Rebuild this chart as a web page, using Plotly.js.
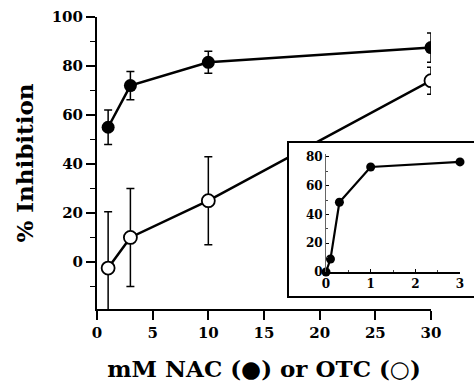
<!DOCTYPE html>
<html>
<head>
<meta charset="utf-8">
<script src="https://cdn.plot.ly/plotly-3.0.1.min.js"></script>
<style>
html,body{margin:0;padding:0;background:#fff;overflow:hidden;width:474px;height:382px;}
#main{position:absolute;left:0;top:0;width:474px;height:382px;}
#inset{position:absolute;left:287px;top:141px;width:200px;height:157px;}
</style>
</head>
<body>
<div id="main"></div>
<div id="inset"></div>
<script>
// Main chart data
const conc = [1, 3, 10, 30];              // mM
const nacInhibition = [55, 72, 81.5, 87.5];
const nacError = [7, 5.8, 4.5, 6];
const otcInhibition = [-2.5, 10, 25, 74];
const otcError = [23, 20, 18, 5.5];
const xTicks = [0, 5, 10, 15, 20, 25, 30];
const yTicks = [0, 20, 40, 60, 80, 100];

// Inset data (NAC, low concentrations)
const insetConc = [0, 0.1, 0.3, 1, 3];
const insetInhibition = [0, 9, 48.5, 73, 76.5];
const insetXTicks = [0, 1, 2, 3];
const insetYTicks = [0, 20, 40, 60, 80];

const font = {family: 'DejaVu Serif', weight: 'bold', color: '#000'};

const traces = [
  {
    x: conc, y: nacInhibition, type: 'scatter', mode: 'lines+markers',
    line: {color: '#000', width: 2.5},
    marker: {color: '#000', size: 13, symbol: 'circle'},
    error_y: {type: 'data', array: nacError, visible: true, color: '#000', thickness: 1.5, width: 4},
    showlegend: false
  },
  {
    x: conc, y: otcInhibition, type: 'scatter', mode: 'lines+markers',
    line: {color: '#000', width: 2.5},
    marker: {color: '#fff', size: 13, symbol: 'circle', line: {color: '#000', width: 1.8}},
    error_y: {type: 'data', array: otcError, visible: true, color: '#000', thickness: 1.5, width: 4},
    showlegend: false
  }
];

const layout = {
  width: 474, height: 382,
  margin: {l: 97, r: 43, t: 17, b: 73},
  paper_bgcolor: '#fff', plot_bgcolor: '#fff',
  font: Object.assign({size: 15}, font),
  showlegend: false,
  xaxis: {
    range: [0, 30], tickvals: xTicks, ticktext: xTicks.map(String),
    showline: true, linecolor: '#000', linewidth: 2,
    ticks: 'outside', ticklen: 9, tickwidth: 2, tickcolor: '#000',
    showgrid: false, zeroline: false,
    tickfont: Object.assign({size: 15}, font),
    title: {text: 'mM NAC (●) or OTC (○)', font: Object.assign({size: 23}, font), standoff: 22}
  },
  yaxis: {
    range: [-19.2, 100], tickvals: yTicks, ticktext: yTicks.map(String),
    showline: true, linecolor: '#000', linewidth: 2,
    ticks: 'outside', ticklen: 9, tickwidth: 2, tickcolor: '#000',
    minor: {dtick: 10, tick0: 10, ticks: 'outside', ticklen: 5, tickwidth: 1.5, tickcolor: '#000'},
    showgrid: false, zeroline: false,
    tickfont: Object.assign({size: 15}, font),
    title: {text: '% Inhibition', font: Object.assign({size: 23}, font), standoff: 12}
  }
};

Plotly.newPlot('main', traces, layout, {staticPlot: true, displayModeBar: false});

const insetTraces = [{
  x: insetConc, y: insetInhibition, type: 'scatter', mode: 'lines+markers',
  line: {color: '#000', width: 2.2},
  marker: {color: '#000', size: 9},
  cliponaxis: false, showlegend: false
}];

// inset frame geometry (px inside the inset div)
const W = 200, H = 157, ML = 39, MT = 13, PW = 134, PH = 118;
const px2x = p => (p - ML) / PW;
const py2y = p => (MT + PH - p) / PH;

const insetLayout = {
  width: W, height: H,
  margin: {l: ML, r: W - ML - PW, t: MT, b: H - MT - PH},
  paper_bgcolor: '#fff', plot_bgcolor: '#fff',
  font: Object.assign({size: 12}, font),
  showlegend: false,
  shapes: [
    {type: 'line', xref: 'paper', yref: 'paper', x0: px2x(0), x1: px2x(W), y0: py2y(1), y1: py2y(1), line: {color: '#000', width: 2}},
    {type: 'line', xref: 'paper', yref: 'paper', x0: px2x(0), x1: px2x(W), y0: py2y(H - 1), y1: py2y(H - 1), line: {color: '#000', width: 2}},
    {type: 'line', xref: 'paper', yref: 'paper', x0: px2x(1), x1: px2x(1), y0: py2y(0), y1: py2y(H), line: {color: '#000', width: 2}}
  ],
  xaxis: {
    range: [0, 3], tickvals: insetXTicks, ticktext: insetXTicks.map(String),
    showline: true, linecolor: '#000', linewidth: 1.5,
    ticks: 'inside', ticklen: 3, tickwidth: 1, tickcolor: '#000',
    minor: {dtick: 0.5, ticks: 'inside', ticklen: 2, tickcolor: '#444'},
    showgrid: false, zeroline: false,
    tickfont: Object.assign({size: 12}, font)
  },
  yaxis: {
    range: [0, 82], tickvals: insetYTicks, ticktext: insetYTicks.map(String),
    showline: true, linecolor: '#666', linewidth: 1,
    ticks: 'inside', ticklen: 3, tickwidth: 1, tickcolor: '#000',
    minor: {dtick: 10, ticks: 'inside', ticklen: 2, tickcolor: '#444'},
    showgrid: false, zeroline: false,
    tickfont: Object.assign({size: 12}, font)
  }
};

Plotly.newPlot('inset', insetTraces, insetLayout, {staticPlot: true, displayModeBar: false});
</script>
</body>
</html>
